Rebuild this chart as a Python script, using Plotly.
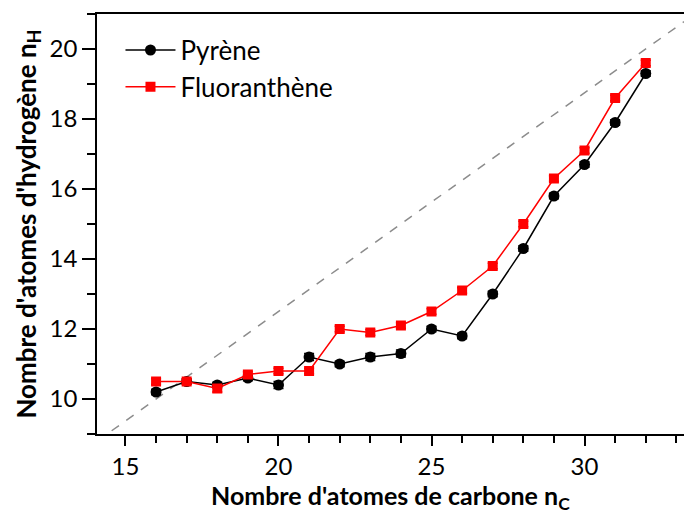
import plotly.graph_objects as go

n_carbon = [16, 17, 18, 19, 20, 21, 22, 23, 24, 25, 26, 27, 28, 29, 30, 31, 32]
pyrene_h = [10.2, 10.5, 10.4, 10.6, 10.4, 11.2, 11.0, 11.2, 11.3, 12.0, 11.8, 13.0, 14.3, 15.8, 16.7, 17.9, 19.3]
pyrene_err = [0.08, 0.08, 0.08, 0.08, 0.1, 0.1, 0.08, 0.1, 0.1, 0.08, 0.08, 0.08, 0.08, 0.08, 0.08, 0.08, 0.08]
fluor_h = [10.5, 10.5, 10.3, 10.7, 10.8, 10.8, 12.0, 11.9, 12.1, 12.5, 13.1, 13.8, 15.0, 16.3, 17.1, 18.6, 19.6]
fluor_err = [0.08, 0.08, 0.1, 0.08, 0.08, 0.08, 0.08, 0.08, 0.08, 0.08, 0.08, 0.08, 0.08, 0.08, 0.08, 0.08, 0.08]
x_range = [14.07, 33.25]
ref_ratio = 0.625
ref_y = [v * ref_ratio for v in x_range]

FONT = "Lato"

fig = go.Figure()
fig.add_trace(go.Scatter(x=x_range, y=ref_y, mode="lines", showlegend=False,
                         line=dict(color="#8c8c8c", width=1.5, dash="dash"), hoverinfo="skip"))
fig.add_trace(go.Scatter(x=n_carbon, y=pyrene_h, mode="lines+markers", name="Pyrène",
                         line=dict(color="black", width=1.5),
                         marker=dict(symbol="circle", size=11, color="black"),
                         error_y=dict(type="data", array=pyrene_err, color="black", thickness=1.5, width=5)))
fig.add_trace(go.Scatter(x=n_carbon, y=fluor_h, mode="lines+markers", name="Fluoranthène",
                         line=dict(color="#ff0000", width=1.5),
                         marker=dict(symbol="square", size=10, color="#ff0000"),
                         error_y=dict(type="data", array=fluor_err, color="#ff0000", thickness=1.5, width=5)))

fig.update_layout(
    width=676, height=504,
    margin=dict(l=89, r=0, t=6, b=78),
    plot_bgcolor="white", paper_bgcolor="white",
    font=dict(family=FONT, color="black", size=20),
    legend=dict(x=0.04, y=0.97, xanchor="left", yanchor="top", bgcolor="rgba(0,0,0,0)",
                font=dict(size=26, family=FONT), tracegroupgap=0, itemwidth=50),
    annotations=[dict(text="<b>Nombre d'atomes de carbone n<sub>C</sub></b>", xref="paper", yref="paper",
                      x=0.5, y=-0.15, xanchor="center", yanchor="middle", showarrow=False,
                      font=dict(size=25, family=FONT, color="black"))],
)
fig.update_xaxes(
    range=x_range, showgrid=False, zeroline=False, automargin=False,
    showline=True, linecolor="black", linewidth=1.5, mirror=True,
    ticks="outside", ticklen=10, tickwidth=1.5, tickcolor="black",
    tickvals=[15, 20, 25, 30],
    minor=dict(tickvals=list(range(15, 34)), ticks="outside", ticklen=7, tickwidth=1.5, tickcolor="black"),
    tickfont=dict(size=24),
)
fig.update_yaxes(
    range=[9, 21], showgrid=False, zeroline=False, automargin=False,
    showline=True, linecolor="black", linewidth=1.5, mirror=False,
    ticks="outside", ticklen=13, tickwidth=1.5, tickcolor="black",
    tickvals=[10, 12, 14, 16, 18, 20],
    minor=dict(tickvals=list(range(9, 22)), ticks="outside", ticklen=8, tickwidth=1.5, tickcolor="black"),
    tickfont=dict(size=24),
    title=dict(text="<b>Nombre d'atomes d'hydrogène n<sub>H</sub></b>", font=dict(size=26), standoff=6),
)

fig.write_html("out.html")
